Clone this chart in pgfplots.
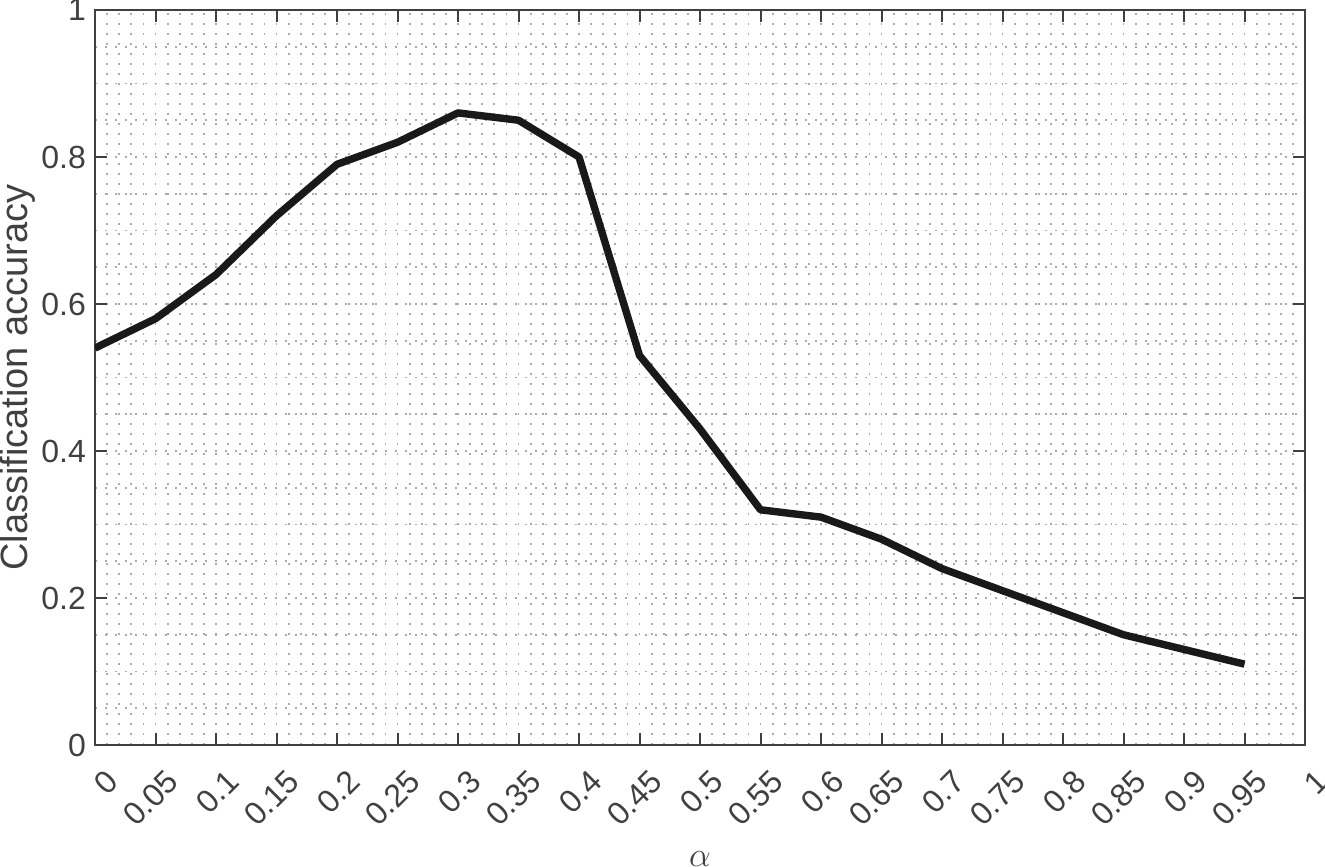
\documentclass[border=0pt]{standalone}
\usepackage{pgfplots}
\pgfplotsset{compat=1.18}
\usepackage{fontspec}
\setmainfont{Liberation Sans}
\definecolor{axgray}{RGB}{64,64,64}
\definecolor{gridgray}{RGB}{170,170,170}
\begin{document}
\begin{tikzpicture}
\begin{axis}[scale only axis, width=605pt, height=367.5pt,
    xmin=0, xmax=1, ymin=0, ymax=1,
    xtick distance=0.05, ytick distance=0.2,
    minor x tick num=4, minor y tick num=3,
    grid=both,
    major grid style={gridgray, line width=0.9pt, dash pattern=on 0.9pt off 4.1pt},
    minor grid style={gridgray, line width=0.9pt, dash pattern=on 0.9pt off 4.1pt},
    tick align=inside, major tick length=6pt, minor tick length=0pt,
    axis line style={axgray, line width=1pt},
    every tick/.style={axgray, line width=1pt},
    tick label style={font=\fontsize{16}{18}\selectfont, text=axgray},
    /pgf/number format/assume math mode=true,
    /pgf/number format/fixed, /pgf/number format/precision=2,
    xticklabel style={rotate=45, anchor=east, xshift=-1.5pt, yshift=-17pt},
    yticklabel style={xshift=-1pt},
    xlabel={$\alpha$}, ylabel={Classification accuracy},
    label style={font=\fontsize{19}{21}\selectfont, text=axgray},
    xlabel style={at={(axis description cs:0.5,0)}, anchor=center, yshift=-57pt},
    ylabel style={at={(axis description cs:-0.0636,0.5)}, anchor=center},
]
\addplot[color={rgb,255:red,25;green,25;blue,25}, line width=3.7pt, line join=round] coordinates {
(0,0.54) (0.05,0.58) (0.1,0.64) (0.15,0.72) (0.2,0.79) (0.25,0.82) (0.3,0.86)
(0.35,0.85) (0.4,0.80) (0.45,0.53) (0.5,0.43) (0.55,0.32) (0.6,0.31) (0.65,0.28)
(0.7,0.24) (0.75,0.21) (0.8,0.18) (0.85,0.15) (0.9,0.13) (0.95,0.11)};
\end{axis}
\pgfresetboundingbox
\path[use as bounding box] ([shift={(-47.5pt,-60.5pt)}]current axis.south west) rectangle ([shift={(10pt,5pt)}]current axis.north east);
\end{tikzpicture}
\end{document}
